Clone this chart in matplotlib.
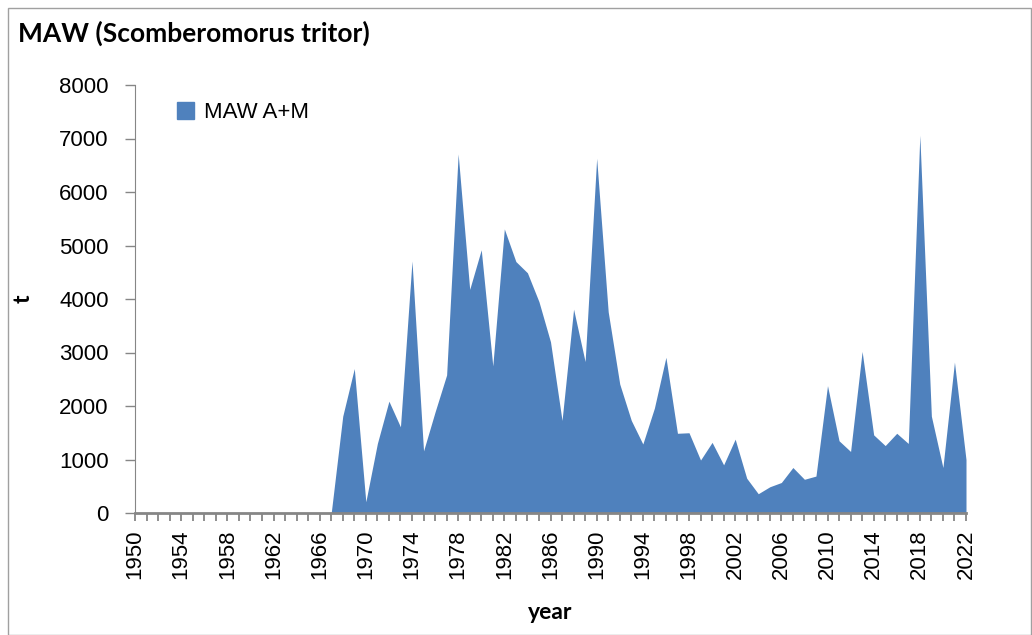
import numpy as np
import matplotlib.pyplot as plt
from matplotlib.patches import Rectangle, Patch

years = list(range(1950, 2023))
# catch (t), zero before 1967
catch_pre = [0] * 17  # 1950-1966
catch_main = [0, 1810, 2700, 210, 1300, 2090, 1610, 4710, 1160, 1890, 2580,
              6710, 4180, 4920, 2750, 5310, 4700, 4490, 3950, 3200, 1730,
              3810, 2830, 6630, 3760, 2410, 1730, 1290, 1960, 2910, 1490,
              1500, 990, 1320, 900, 1380, 650, 360, 490, 570, 850, 630, 690,
              2380, 1350, 1150, 3020, 1460, 1260, 1490, 1300, 7060, 1810,
              850, 2820, 1000]
catch = catch_pre + catch_main

label_font = 'Lato'
tick_font = 'Liberation Sans'
blue = '#4F81BD'
grey = '#868686'

fig = plt.figure(figsize=(10.32, 6.35), dpi=100)
ax = fig.add_axes([135/1032, 1-513/635, 831/1032, 428/635])

ax.fill_between(years, catch, 0, color=blue, linewidth=0)
ax.set_xlim(1950, 2022)
ax.set_ylim(0, 8000)

ax.set_xticks(years)
ax.set_xticklabels([str(y) if (y - 1950) % 4 == 0 else '' for y in years],
                   rotation=90, fontsize=16, family=tick_font)
ax.set_yticks(range(0, 8001, 1000))
ax.set_yticklabels([str(v) for v in range(0, 8001, 1000)], fontsize=16,
                   family=tick_font)
ax.tick_params(axis='x', length=6, width=1.3, color=grey, pad=6)
ax.tick_params(axis='y', length=7, width=1, color=grey, pad=12)

for s in ['top', 'right']:
    ax.spines[s].set_visible(False)
ax.spines['left'].set_color(grey)
ax.spines['bottom'].set_color(grey)
ax.spines['bottom'].set_linewidth(2)

ax.set_xlabel('year', fontsize=16.5, fontweight='bold', family=label_font)
ax.xaxis.set_label_coords(0.5, -(602-513)/428)
ax.set_ylabel('t', fontsize=16.5, fontweight='bold', family=label_font)
ax.yaxis.set_label_coords(-(135-34)/831, 0.5)

ax.legend(handles=[Patch(color=blue, label='MAW A+M')], loc='center left',
          bbox_to_anchor=(0.027, 0.935), frameon=False,
          handlelength=0.75, handleheight=0.75, handletextpad=0.45,
          prop={'family': tick_font, 'size': 16})

fig.text(18/1032, 1-33/635, 'MAW (Scomberomorus tritor)', fontsize=19,
         fontweight='bold', family=label_font, va='center', ha='left')

fig.patches.append(Rectangle((8/1032, 0), 1023/1032, 1-8/635,
                             transform=fig.transFigure, fill=False,
                             edgecolor='#a0a0a0', linewidth=1))

fig.savefig('out.png', dpi=100)
